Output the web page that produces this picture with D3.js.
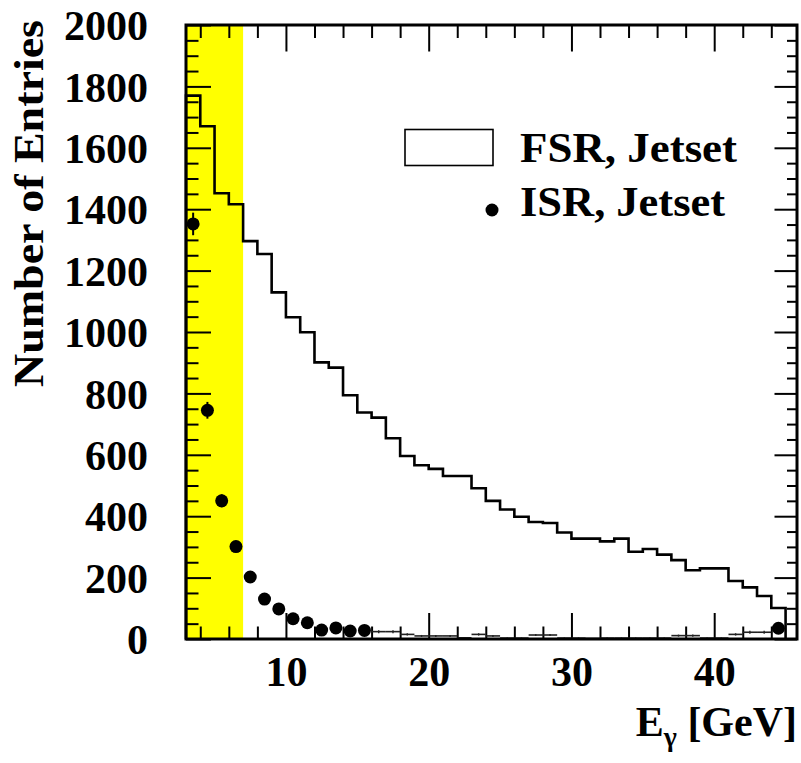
<!DOCTYPE html>
<html>
<head>
<meta charset="utf-8">
<script src="https://cdn.jsdelivr.net/npm/d3@7"></script>
<style>
  html, body { margin: 0; padding: 0; background: #ffffff; }
  svg { display: block; }
  text { font-family: "Liberation Serif", "Times New Roman", serif; font-weight: bold; fill: #000; }
</style>
</head>
<body>
<svg id="chart" width="801" height="763"></svg>
<script>
// Photon energy bins (GeV): lower edges of 1 GeV wide bins
const binLow = [3, 4, 5, 6, 7, 8, 9, 10, 11, 12, 13, 14, 15, 16, 17, 18, 19, 20, 21, 22, 23,
                24, 25, 26, 27, 28, 29, 30, 31, 32, 33, 34, 35, 36, 37, 38, 39, 40, 41, 42, 43, 44];
const binWidth = 1;

// Final-state radiation, Jetset (histogram)
const fsrCounts = [1770, 1670, 1452, 1416, 1296, 1254, 1129, 1048, 999, 901, 884, 794, 738, 721,
                   654, 596, 566, 554, 531, 531, 491, 450, 422, 398, 381, 378, 347, 327, 327, 318,
                   327, 284, 293, 275, 257, 224, 230, 230, 189, 168, 140, 101];

// Initial-state radiation, Jetset (points)
const isrCounts = [1352, 745, 450, 301, 202, 130, 98, 66, 53, 29, 36, 26, 28, 24, 24, 15, 10, 10,
                   10, 4, 15, 10, 3, 3, 13, 13, 3, 3, 2, 3, 3, 3, 3, 3, 11, 11, 3, 3, 15, 22, 22, 35];

// Shaded energy window (GeV)
const bandRange = [3, 7];

const xTickMajor = [10, 20, 30, 40];
const xTickMinor = [4, 6, 8, 12, 14, 16, 18, 22, 24, 26, 28, 32, 34, 36, 38, 42, 44];
const yTickMajor = [0, 200, 400, 600, 800, 1000, 1200, 1400, 1600, 1800, 2000];
const yTickMinor = [50, 100, 150, 250, 300, 350, 450, 500, 550, 650, 700, 750, 850, 900, 950,
                    1050, 1100, 1150, 1250, 1300, 1350, 1450, 1500, 1550, 1650, 1700, 1750,
                    1850, 1900, 1950];

const xTitle = "E";
const xTitleSub = "γ";
const xTitleUnit = " [GeV]";
const yTitle = "Number of Entries";
const legendLabels = ["FSR, Jetset", "ISR, Jetset"];

// ---- layout ----
const svg = d3.select("#chart");
const L = 186, R = 797, T = 25, B = 639;

const x = d3.scaleLinear().domain([3, 45.8]).range([L, R]);
const y = d3.scaleLinear().domain([0, 2000]).range([B, T]);

// yellow window
svg.append("rect")
  .attr("x", x(bandRange[0])).attr("y", T)
  .attr("width", x(bandRange[1]) - x(bandRange[0]))
  .attr("height", B - T)
  .attr("fill", "#ffff00");

// ---- axes (ticks pointing inward on all four sides) ----
function tickAxis(axisFn, scale, values, size, fmt) {
  return axisFn(scale).tickValues(values).tickSize(size).tickSizeOuter(0)
    .tickFormat(fmt || "");
}
function styleAxis(g) {
  g.select(".domain").remove();
  g.selectAll(".tick line").attr("stroke", "#000").attr("stroke-width", 2);
}

// left
svg.append("g").attr("transform", `translate(${L},0)`)
  .call(tickAxis(d3.axisLeft, y, yTickMinor, -12.5)).call(styleAxis);
const yAx = svg.append("g").attr("transform", `translate(${L},0)`)
  .call(tickAxis(d3.axisLeft, y, yTickMajor, -25, d3.format("d")).tickPadding(38))
  .call(styleAxis);
yAx.selectAll("text").attr("font-size", 42).attr("font-family", "Liberation Serif")
  .attr("font-weight", "bold").attr("dy", "0.35em");

// right
svg.append("g").attr("transform", `translate(${R},0)`)
  .call(tickAxis(d3.axisRight, y, yTickMinor, -10)).call(styleAxis);
svg.append("g").attr("transform", `translate(${R},0)`)
  .call(tickAxis(d3.axisRight, y, yTickMajor, -22.5)).call(styleAxis);

// bottom
svg.append("g").attr("transform", `translate(0,${B})`)
  .call(tickAxis(d3.axisBottom, x, xTickMinor, -12.5)).call(styleAxis);
const xAx = svg.append("g").attr("transform", `translate(0,${B})`)
  .call(tickAxis(d3.axisBottom, x, xTickMajor, -26, d3.format("d")).tickPadding(17))
  .call(styleAxis);
xAx.selectAll("text").attr("font-size", 42).attr("font-family", "Liberation Serif")
  .attr("font-weight", "bold").attr("dy", "0.71em");

// top
svg.append("g").attr("transform", `translate(0,${T})`)
  .call(tickAxis(d3.axisTop, x, xTickMinor, -13)).call(styleAxis);
svg.append("g").attr("transform", `translate(0,${T})`)
  .call(tickAxis(d3.axisTop, x, xTickMajor, -26.5)).call(styleAxis);

// ---- FSR histogram (step outline) ----
const fsrData = binLow.map((lo, i) => ({ lo, hi: lo + binWidth, v: fsrCounts[i] }));
let pts = [[x(fsrData[0].lo), y(0)]];
fsrData.forEach(d => { pts.push([x(d.lo), y(d.v)]); pts.push([x(d.hi), y(d.v)]); });
pts.push([x(fsrData[fsrData.length - 1].hi), y(0)]);
svg.append("path")
  .attr("d", d3.line()(pts))
  .attr("fill", "none").attr("stroke", "#000").attr("stroke-width", 2.6)
  .attr("stroke-linejoin", "miter");

// ---- ISR points ----
const isrData = binLow.map((lo, i) => ({ lo, hi: lo + binWidth, c: lo + binWidth / 2, v: isrCounts[i] }));
const markerCut = 25;
const isrG = svg.append("g");
// low-count bins drawn as bin-wide bars with statistical error
isrData.filter(d => d.v <= markerCut).forEach(d => {
  isrG.append("line")
    .attr("x1", x(d.lo)).attr("x2", x(d.hi)).attr("y1", y(d.v)).attr("y2", y(d.v))
    .attr("stroke", "#222").attr("stroke-width", 1.6);
  isrG.append("line")
    .attr("x1", x(d.c)).attr("x2", x(d.c))
    .attr("y1", y(d.v + Math.sqrt(d.v))).attr("y2", y(Math.max(0, d.v - Math.sqrt(d.v))))
    .attr("stroke", "#222").attr("stroke-width", 1.4);
});
const marked = isrData.filter(d => d.v > markerCut);
isrG.selectAll("line.err").data(marked).join("line").attr("class", "err")
  .attr("x1", d => x(d.c)).attr("x2", d => x(d.c))
  .attr("y1", d => y(d.v + Math.sqrt(d.v))).attr("y2", d => y(d.v - Math.sqrt(d.v)))
  .attr("stroke", "#000").attr("stroke-width", 2);
isrG.selectAll("circle").data(marked).join("circle")
  .attr("cx", d => x(d.c)).attr("cy", d => y(d.v)).attr("r", 6.5).attr("fill", "#000");

// ---- frame ----
svg.append("rect")
  .attr("x", L).attr("y", T).attr("width", R - L).attr("height", B - T)
  .attr("fill", "none").attr("stroke", "#000").attr("stroke-width", 3);

// ---- legend ----
const lg = svg.append("g");
lg.append("rect").attr("x", 405).attr("y", 129.5).attr("width", 88).attr("height", 36)
  .attr("fill", "#fff").attr("stroke", "#000").attr("stroke-width", 1.6);
lg.append("text").attr("x", 520).attr("y", 162).attr("font-size", 42)
  .attr("textLength", 217).attr("lengthAdjust", "spacingAndGlyphs").text(legendLabels[0]);
lg.append("circle").attr("cx", 492).attr("cy", 210).attr("r", 6.5).attr("fill", "#000");
lg.append("text").attr("x", 520).attr("y", 216).attr("font-size", 42)
  .attr("textLength", 205).attr("lengthAdjust", "spacingAndGlyphs").text(legendLabels[1]);

// ---- axis titles ----
const xt = svg.append("text").attr("x", R).attr("y", 736).attr("text-anchor", "end")
  .attr("font-size", 42);
xt.append("tspan").text(xTitle);
xt.append("tspan").attr("font-size", 28).attr("dy", 10).text(xTitleSub);
xt.append("tspan").attr("dy", -10).text(xTitleUnit);

svg.append("text")
  .attr("transform", `translate(43,${(20 + 387) / 2}) rotate(-90)`)
  .attr("text-anchor", "middle").attr("font-size", 42)
  .attr("textLength", 367).attr("lengthAdjust", "spacingAndGlyphs")
  .text(yTitle);
</script>
</body>
</html>
